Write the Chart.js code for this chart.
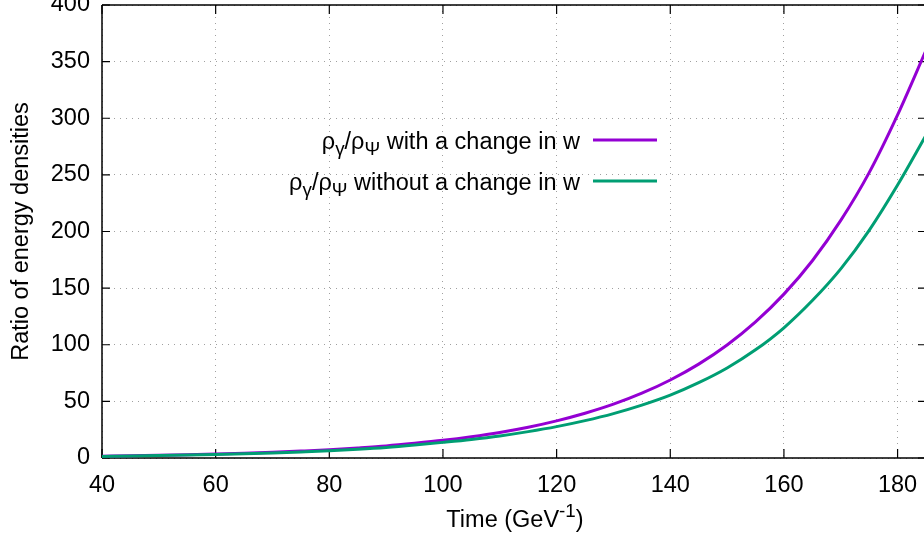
<!DOCTYPE html>
<html><head><meta charset="utf-8">
<style>
html,body{margin:0;padding:0;overflow:hidden;background:#fff;width:924px;height:539px}
#wrap{position:absolute;left:0;top:0;width:926px;height:539px}
</style>
<script src="https://cdn.jsdelivr.net/npm/chart.js@4/dist/chart.umd.min.js"></script>
</head><body>
<div id="wrap"><canvas id="c" width="926" height="539"></canvas></div>
<script>
// ---- data ----
const timeValues = [40,45,50,55,60,65,70,75,80,85,90,95,100,105,110,115,120,125,130,135,140,145,150,155,160,165,170,175,180,185];
const ratioWithChange = [1.6,1.95,2.35,2.85,3.45,4.2,5.05,6.1,7.3,8.9,10.7,13.0,15.6,18.8,22.6,27.2,32.8,39.5,47.5,57.2,68.9,82.9,99.8,120.2,144.7,174.2,209.8,252,303,360];
const ratioWithoutChange = [1.4,1.7,2.1,2.55,3.1,3.75,4.5,5.4,6.4,7.7,9.3,11.4,13.8,16.4,19.5,23.3,27.7,33.0,39.2,46.7,55.5,66.5,79.5,95.5,115,139,167,201,241,285];
const xTicks = [40,60,80,100,120,140,160,180];
const yTicks = [0,50,100,150,200,250,300,350,400];
const xTitle = ["Time (GeV", "-1", ")"];
const yTitle = "Ratio of energy densities";
const legendParts = [
  [["ρ",0],["γ",1],["/ρ",0],["Ψ",1],[" with a change in w",0]],
  [["ρ",0],["γ",1],["/ρ",0],["Ψ",1],[" without a change in w",0]]
];
const seriesColors = ["#9400d3","#009e73"];

const FONT_FAMILY = "'Liberation Sans', Arial, sans-serif";
const FS = 23.5;

function drawRich(ctx, parts, xRef, baseline, size, align) {
  let widths = parts.map(([t, k]) => {
    ctx.font = (k ? size*0.8 : size) + "px " + FONT_FAMILY;
    return ctx.measureText(t).width;
  });
  const total = widths.reduce((a,b)=>a+b,0);
  let x = align === 'center' ? xRef - total/2 : xRef - total;
  parts.forEach(([t,k],i) => {
    ctx.font = (k ? size*0.8 : size) + "px " + FONT_FAMILY;
    let dy = 0;
    if (k === 1) dy = size*0.28;
    if (k === 2) dy = -size*0.42;
    ctx.fillText(t, x, baseline + dy);
    x += widths[i];
  });
}

const framePlugin = {
  id: 'frame',
  beforeDatasetsDraw(chart) {
    const {ctx, chartArea: a, scales} = chart;
    ctx.save();
    ctx.strokeStyle = '#000';
    ctx.lineWidth = 1.5;
    ctx.beginPath();
    ctx.moveTo(a.left, a.top); ctx.lineTo(a.right, a.top);
    ctx.moveTo(a.left, a.bottom); ctx.lineTo(a.right, a.bottom);
    ctx.moveTo(a.left, a.top); ctx.lineTo(a.left, a.bottom);
    ctx.moveTo(a.right, a.top); ctx.lineTo(a.right, a.bottom);
    ctx.stroke();
    ctx.lineWidth = 1.2;
    ctx.beginPath();
    yTicks.forEach(v => {
      const p = scales.y.getPixelForValue(v);
      ctx.moveTo(a.left, p); ctx.lineTo(a.left + 8, p);
      ctx.moveTo(a.right, p); ctx.lineTo(a.right - 8, p);
    });
    xTicks.forEach(v => {
      const p = scales.x.getPixelForValue(v);
      ctx.moveTo(p, a.bottom); ctx.lineTo(p, a.bottom - 9);
      ctx.moveTo(p, a.top); ctx.lineTo(p, a.top + 9);
    });
    ctx.stroke();
    ctx.restore();
  },
  afterDraw(chart) {
    const {ctx, chartArea: a} = chart;
    ctx.save();
    ctx.fillStyle = '#000';
    ctx.textBaseline = 'alphabetic';
    drawRich(ctx, [[xTitle[0],0],[xTitle[1],2],[xTitle[2],0]], (a.left + 924)/2 + 2, 527, FS, 'center');
    ctx.save();
    ctx.translate(28, (a.top + a.bottom)/2);
    ctx.rotate(-Math.PI/2);
    ctx.font = FS + "px " + FONT_FAMILY;
    ctx.textAlign = 'center';
    ctx.fillText(yTitle, 0, 0);
    ctx.restore();
    const rows = [140, 181];
    legendParts.forEach((parts, i) => {
      ctx.textAlign = 'left';
      drawRich(ctx, parts, 580, rows[i] + 8.5, FS, 'right');
      ctx.strokeStyle = seriesColors[i];
      ctx.lineWidth = 3;
      ctx.beginPath();
      ctx.moveTo(593, rows[i]); ctx.lineTo(657, rows[i]);
      ctx.stroke();
    });
    ctx.restore();
  }
};

const tickFont = {family: FONT_FAMILY, size: FS};

new Chart(document.getElementById('c'), {
  type: 'line',
  data: {
    datasets: [
      {label: 'with', data: timeValues.map((t,i)=>({x:t, y:ratioWithChange[i]})),
       borderColor: seriesColors[0], borderWidth: 3, pointRadius: 0, fill: false,
       cubicInterpolationMode: 'monotone', order: 2},
      {label: 'without', data: timeValues.map((t,i)=>({x:t, y:ratioWithoutChange[i]})),
       borderColor: seriesColors[1], borderWidth: 3, pointRadius: 0, fill: false,
       cubicInterpolationMode: 'monotone', order: 1}
    ]
  },
  options: {
    responsive: false, animation: false, devicePixelRatio: 1,
    layout: {padding: {top: 5, right: 0, left: 0, bottom: 0}},
    plugins: {legend: {display: false}, tooltip: {enabled: false}},
    scales: {
      x: {
        type: 'linear', min: 40, max: 185,
        afterBuildTicks: s => { s.ticks = xTicks.map(v => ({value: v})); },
        afterFit: s => { s.height = 81; s.paddingLeft = 0; s.paddingRight = 0; },
        ticks: {font: tickFont, color: '#000', padding: 13, maxRotation: 0, autoSkip: false, includeBounds: false},
        grid: {color: '#a0a0a0', lineWidth: 1, drawTicks: false},
        border: {display: false, dash: [1,5]}
      },
      y: {
        type: 'linear', min: 0, max: 400,
        afterBuildTicks: s => { s.ticks = yTicks.map(v => ({value: v})); },
        afterFit: s => { s.width = 102; s.paddingTop = 0; s.paddingBottom = 0; },
        ticks: {font: tickFont, color: '#000', padding: 12, includeBounds: false},
        grid: {color: '#a0a0a0', lineWidth: 1, drawTicks: false},
        border: {display: false, dash: [1,5]}
      }
    }
  },
  plugins: [framePlugin]
});
</script>
</body></html>
